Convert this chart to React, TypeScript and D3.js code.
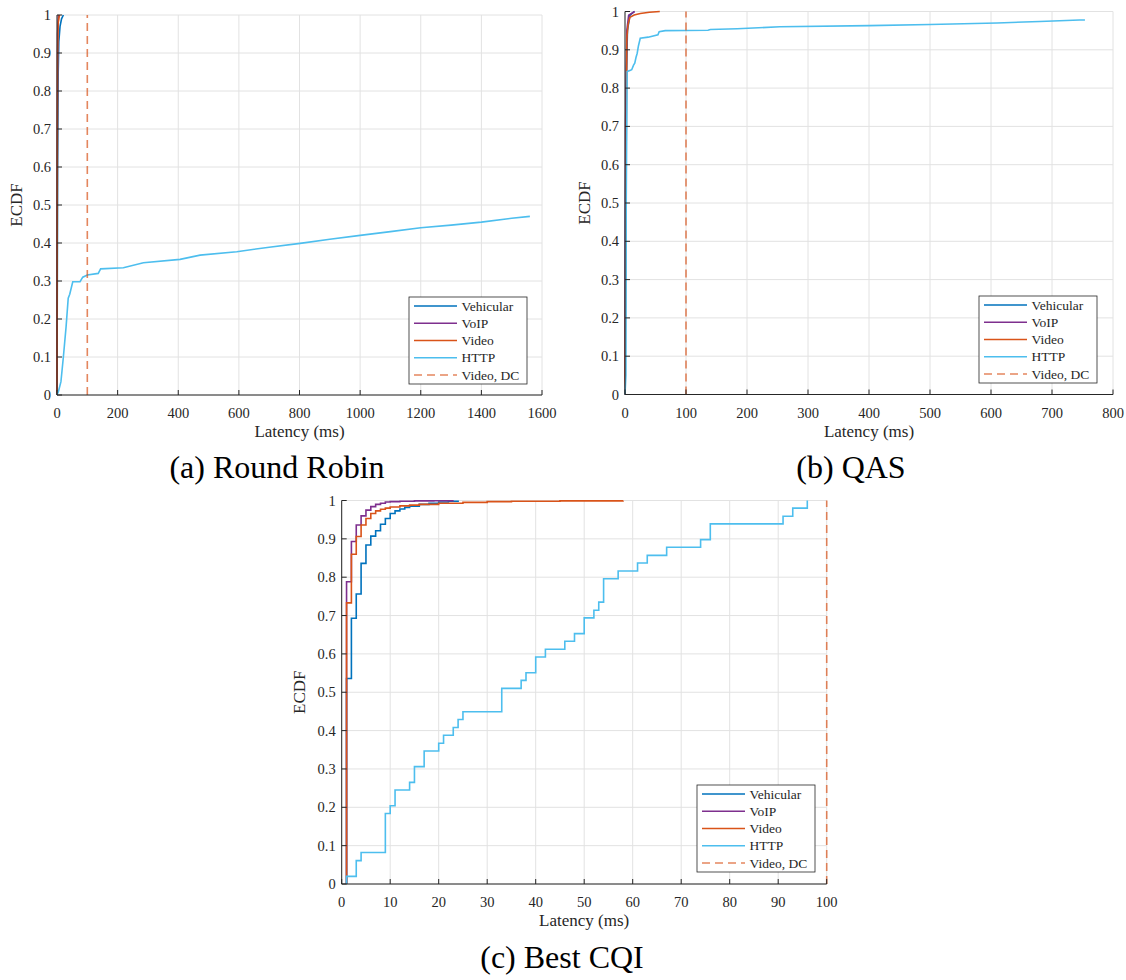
import React from "react";
import * as d3 from "d3";

const FONT = "Liberation Serif, serif";
const INK = "#262626";
const GRID = "#e2e2e2";

const seriesNames = ["Vehicular", "VoIP", "Video", "HTTP"];
const seriesColors = ["#0072BD", "#7E2F8E", "#D95319", "#4DBEEE"];
const dcLabel = "Video, DC";
const dcColor = "#D95319";
const dcLatency = 100;

type Pt = [number, number];

// (a) Round Robin — [latency ms, ECDF]
const rrVehicular: Pt[] = [[0, 0], [1, 0.3], [2, 0.6], [4, 0.85], [6, 0.93], [10, 0.97], [15, 0.99], [21, 1]];
const rrVoip: Pt[] = [[0, 0], [1, 0.7], [2, 0.95], [5, 1]];
const rrVideo: Pt[] = [[0, 0], [1, 0.6], [2, 0.9], [4, 0.98], [8, 1]];
const rrHttp: Pt[] = [
  [0, 0], [5, 0.01], [13, 0.035], [21, 0.1], [30, 0.18], [37, 0.255], [42, 0.265], [52, 0.298],
  [76, 0.298], [85, 0.31], [100, 0.316], [136, 0.32], [144, 0.332], [219, 0.335], [285, 0.348],
  [406, 0.357], [472, 0.368], [593, 0.377], [700, 0.389], [802, 0.399], [900, 0.41], [1000, 0.42],
  [1100, 0.43], [1200, 0.44], [1300, 0.447], [1400, 0.455], [1500, 0.465], [1560, 0.47],
];

// (b) QAS
const qasVehicular: Pt[] = [[0, 0], [1, 0.5], [2, 0.8], [4, 0.95], [8, 0.99], [15, 1]];
const qasVoip: Pt[] = [[0, 0], [1, 0.7], [3, 0.95], [6, 0.99], [16, 1]];
const qasVideo: Pt[] = [[0, 0], [1, 0.3], [2, 0.66], [3, 0.93], [5, 0.965], [8, 0.985], [15, 0.991], [25, 0.995], [40, 0.998], [57, 1]];
const qasHttp: Pt[] = [
  [0, 0], [1.5, 0.05], [2, 0.5], [3.5, 0.843], [8, 0.846], [11, 0.848], [14, 0.86], [16, 0.865],
  [18, 0.88], [20, 0.891], [22, 0.91], [25, 0.93], [38, 0.933], [54, 0.939], [56, 0.947], [66, 0.95],
  [136, 0.951], [140, 0.953], [184, 0.955], [254, 0.96], [400, 0.963], [500, 0.966], [610, 0.97],
  [680, 0.974], [745, 0.978], [754, 0.978],
];

// (c) Best CQI — step points (latency, ECDF after step)
const cqiVehicularX = [1, 2, 3, 4, 5, 6, 7, 8, 9, 10, 11, 12, 13, 14, 16, 18, 20, 22, 24];
const cqiVehicularY = [0.536, 0.693, 0.756, 0.836, 0.884, 0.907, 0.921, 0.938, 0.953, 0.966, 0.973, 0.978, 0.982, 0.985, 0.99, 0.993, 0.996, 0.998, 1.0];
const cqiVoipX = [1, 2, 3, 4, 5, 6, 7, 8, 9, 10, 12, 15, 19, 23];
const cqiVoipY = [0.788, 0.893, 0.936, 0.96, 0.975, 0.984, 0.99, 0.993, 0.996, 0.997, 0.998, 0.999, 0.9995, 1.0];
const cqiVideoX = [1, 2, 3, 4, 5, 6, 7, 8, 9, 10, 12, 14, 16, 20, 25, 30, 35, 45, 58];
const cqiVideoY = [0.733, 0.86, 0.906, 0.936, 0.953, 0.966, 0.973, 0.977, 0.98, 0.983, 0.986, 0.988, 0.99, 0.993, 0.995, 0.997, 0.998, 0.999, 1.0];
const cqiHttpX = [1, 3, 4, 9, 10, 11, 14, 15, 17, 20, 21, 23, 24, 25, 33, 37, 38, 40, 42, 46, 48, 50, 52, 53, 54, 57, 61, 63, 67, 74, 76, 91, 93, 96];
const cqiHttpY = [0.02, 0.061, 0.082, 0.184, 0.204, 0.245, 0.265, 0.306, 0.347, 0.367, 0.388, 0.408, 0.429, 0.449, 0.51, 0.531, 0.551, 0.592, 0.612, 0.633, 0.653, 0.694, 0.714, 0.735, 0.796, 0.816, 0.837, 0.857, 0.878, 0.898, 0.939, 0.959, 0.98, 1.0];

const stepPts = (xs: number[], ys: number[]): Pt[] => [[xs[0], 0] as Pt, ...xs.map((x, i) => [x, ys[i]] as Pt)];

const yTicks = d3.range(0, 11).map((i) => i / 10);

type PanelProps = {
  frame: { left: number; right: number; top: number; bottom: number };
  xMax: number;
  xStep: number;
  series: Pt[][];
  step: boolean;
  legend: { x: number; y: number; w: number; h: number; sx0: number; sx1: number; tx: number };
  caption: string;
  captionX: number;
  captionY: number;
  yLabelX: number;
};

const txt = { fontFamily: FONT };

function Panel(p: PanelProps) {
  const { frame } = p;
  const x = d3.scaleLinear().domain([0, p.xMax]).range([frame.left, frame.right]);
  const y = d3.scaleLinear().domain([0, 1]).range([frame.bottom, frame.top]);
  const xTicks = d3.range(0, p.xMax + 0.001, p.xStep);
  const line = d3
    .line<Pt>()
    .x((d) => x(d[0]))
    .y((d) => y(d[1]))
    .curve(p.step ? d3.curveStepAfter : d3.curveLinear);
  const fmt = (v: number) => String(+v.toFixed(1));
  const rowH = (p.legend.h - 18) / 4;
  return (
    <g>
      {xTicks.map((t) => (
        <line key={"gx" + t} x1={x(t)} x2={x(t)} y1={frame.top} y2={frame.bottom} stroke={GRID} strokeWidth={1} />
      ))}
      {yTicks.map((t) => (
        <line key={"gy" + t} x1={frame.left} x2={frame.right} y1={y(t)} y2={y(t)} stroke={GRID} strokeWidth={1} />
      ))}
      {p.series.map((s, i) => (
        <path key={"s" + i} d={line(s) || ""} fill="none" stroke={seriesColors[i]} strokeWidth={1.6} />
      ))}
      <line x1={x(dcLatency)} x2={x(dcLatency)} y1={y(0)} y2={y(1)} stroke={dcColor} strokeOpacity={0.7} strokeWidth={1.6} strokeDasharray="8,5" />
      <line x1={frame.left} x2={frame.right} y1={frame.bottom} y2={frame.bottom} stroke={INK} strokeWidth={1} />
      <line x1={frame.left} x2={frame.left} y1={frame.top} y2={frame.bottom} stroke={INK} strokeWidth={1} />
      {xTicks.map((t) => (
        <g key={"tx" + t}>
          <line x1={x(t)} x2={x(t)} y1={frame.bottom} y2={frame.bottom - 5} stroke={INK} />
          <text x={x(t)} y={frame.bottom + 23} textAnchor="middle" fontSize={14.5} fill={INK} style={txt}>
            {fmt(t)}
          </text>
        </g>
      ))}
      {yTicks.map((t) => (
        <g key={"ty" + t}>
          <line x1={frame.left} x2={frame.left + 5} y1={y(t)} y2={y(t)} stroke={INK} />
          <text x={frame.left - 6} y={y(t) + 5} textAnchor="end" fontSize={14.5} fill={INK} style={txt}>
            {fmt(t)}
          </text>
        </g>
      ))}
      <text x={(frame.left + frame.right) / 2} y={frame.bottom + 42} textAnchor="middle" fontSize={17} fill={INK} style={txt}>
        Latency (ms)
      </text>
      <text
        transform={`translate(${p.yLabelX},${(frame.top + frame.bottom) / 2}) rotate(-90)`}
        textAnchor="middle"
        fontSize={17}
        fill={INK}
        style={txt}
      >
        ECDF
      </text>
      <rect x={p.legend.x} y={p.legend.y} width={p.legend.w} height={p.legend.h} fill="#fff" stroke={INK} strokeWidth={0.8} />
      {[...seriesNames, dcLabel].map((n, i) => {
        const ly = p.legend.y + 9 + rowH * i;
        const col = i < 4 ? seriesColors[i] : dcColor;
        return (
          <g key={"lg" + i}>
            <line
              x1={p.legend.sx0}
              x2={p.legend.sx1}
              y1={ly}
              y2={ly}
              stroke={col}
              strokeWidth={1.6}
              strokeOpacity={i < 4 ? 1 : 0.7}
              strokeDasharray={i < 4 ? undefined : "8,5"}
            />
            <text x={p.legend.tx} y={ly + 4.5} fontSize={13.5} fill={INK} style={txt}>
              {n}
            </text>
          </g>
        );
      })}
      <text x={p.captionX} y={p.captionY} textAnchor="middle" fontSize={32} fill="#000" style={txt}>
        {p.caption}
      </text>
    </g>
  );
}

export default function App() {
  return (
    <svg width={1126} height={980} style={{ position: "absolute", left: 0, top: 0, background: "#fff" }}>
      <Panel
        frame={{ left: 57, right: 542, top: 15, bottom: 395 }}
        xMax={1600}
        xStep={200}
        series={[rrVehicular, rrVoip, rrVideo, rrHttp]}
        step={false}
        legend={{ x: 409, y: 297, w: 118, h: 87, sx0: 414, sx1: 457, tx: 461.5 }}
        caption="(a) Round Robin"
        captionX={277}
        captionY={478}
        yLabelX={22}
      />
      <Panel
        frame={{ left: 625, right: 1113, top: 11.5, bottom: 394.5 }}
        xMax={800}
        xStep={100}
        series={[qasVehicular, qasVoip, qasVideo, qasHttp]}
        step={false}
        legend={{ x: 979, y: 296, w: 118, h: 87, sx0: 984, sx1: 1027, tx: 1031.5 }}
        caption="(b) QAS"
        captionX={851}
        captionY={478}
        yLabelX={590}
      />
      <Panel
        frame={{ left: 341.7, right: 826.7, top: 500.5, bottom: 884 }}
        xMax={100}
        xStep={10}
        series={[
          stepPts(cqiVehicularX, cqiVehicularY),
          stepPts(cqiVoipX, cqiVoipY),
          stepPts(cqiVideoX, cqiVideoY),
          stepPts(cqiHttpX, cqiHttpY),
        ]}
        step={true}
        legend={{ x: 697, y: 785, w: 118, h: 87, sx0: 702, sx1: 745, tx: 749.5 }}
        caption="(c) Best CQI"
        captionX={562}
        captionY={968}
        yLabelX={305}
      />
    </svg>
  );
}
